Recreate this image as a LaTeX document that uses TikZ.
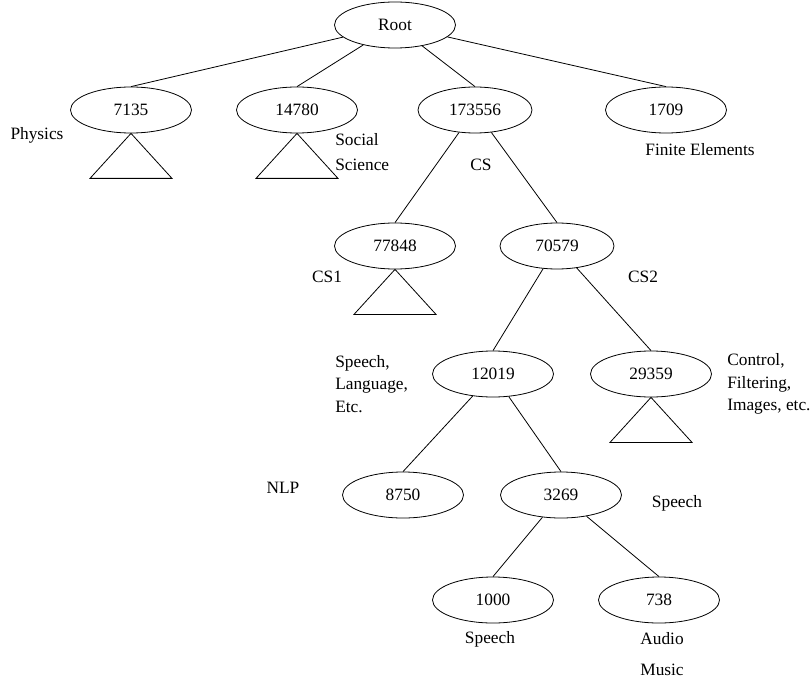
\documentclass[tikz,border=0pt]{standalone}
\usepackage{fontspec}
\setmainfont{Liberation Serif}
\usetikzlibrary{shapes.geometric}

\tikzset{
  cnt/.style={ellipse,draw,line width=0.6pt,minimum width=90.75pt,minimum height=34.5pt,inner sep=0pt},
  lbl/.style={inner sep=0pt,align=left},
  edge/.style={line width=0.6pt}
}

\begin{document}
\begin{tikzpicture}[x=0.75pt,y=-0.75pt,font=\fontsize{13}{16}\selectfont]
  \useasboundingbox (0,0) rectangle (812,684);
  % clusters
  \node[cnt] (root) at (395,25) {Root};
  \node[cnt] (n7135) at (131,110) {7135};
  \node[cnt] (n14780) at (297,110) {14780};
  \node[cnt,minimum width=85.5pt] (n173556) at (475,110) {173556};
  \node[cnt] (n1709) at (666,110) {1709};
  \node[cnt] (n77848) at (395,246) {77848};
  \node[cnt,minimum width=85.5pt] (n70579) at (557,246) {70579};
  \node[cnt] (n12019) at (493,374) {12019};
  \node[cnt] (n29359) at (651,374) {29359};
  \node[cnt] (n8750) at (403,495) {8750};
  \node[cnt] (n3269) at (561,495) {3269};
  \node[cnt] (n1000) at (493,600) {1000};
  \node[cnt] (n738) at (659,600) {738};
  % labels
  \node[lbl] (physics) at (37,135) {Physics};
  \node[lbl,anchor=west] (social) at (335,152) {Social\\[3pt]Science};
  \node[lbl] (cs) at (481,165) {CS};
  \node[lbl] (finite) at (700,150) {Finite Elements};
  \node[lbl] (cs1) at (327,277) {CS1};
  \node[lbl] (cs2) at (643,277) {CS2};
  \node[lbl,anchor=west] (speechlang) at (335,384) {Speech,\\[1pt]Language,\\[1pt]Etc.};
  \node[lbl,anchor=west] (control) at (727,384) {Control,\\[1pt]Filtering,\\[1pt]Images, etc.};
  \node[lbl] (nlp) at (283,488) {NLP};
  \node[lbl] (speech1) at (677,503) {Speech};
  \node[lbl] (speech2) at (490,639) {Speech};
  \node[lbl] (audio) at (662,639) {Audio};
  \node[lbl] (music) at (662,670) {Music};
  % edges
  \draw[edge] (root) -- (n7135.north);
  \draw[edge] (root) -- (n14780.north);
  \draw[edge] (root) -- (n173556.north);
  \draw[edge] (root) -- (n1709.north);
  \draw[edge] (n173556) -- (n77848.north);
  \draw[edge] (n173556) -- (n70579.north);
  \draw[edge] (n70579) -- (n12019.north);
  \draw[edge] (n70579) -- (n29359.north);
  \draw[edge] (n12019) -- (n8750.north);
  \draw[edge] (n12019) -- (n3269.north);
  \draw[edge] (n3269) -- (n1000.north);
  \draw[edge] (n3269) -- (n738.north);
  % collapsed subtrees
  \draw[edge] (n7135.south) -- ++(-41,45) -- ++(82,0) -- cycle;
  \draw[edge] (n14780.south) -- ++(-41,45) -- ++(82,0) -- cycle;
  \draw[edge] (n77848.south) -- ++(-41,45) -- ++(82,0) -- cycle;
  \draw[edge] (n29359.south) -- ++(-41,45) -- ++(82,0) -- cycle;
\end{tikzpicture}
\end{document}
